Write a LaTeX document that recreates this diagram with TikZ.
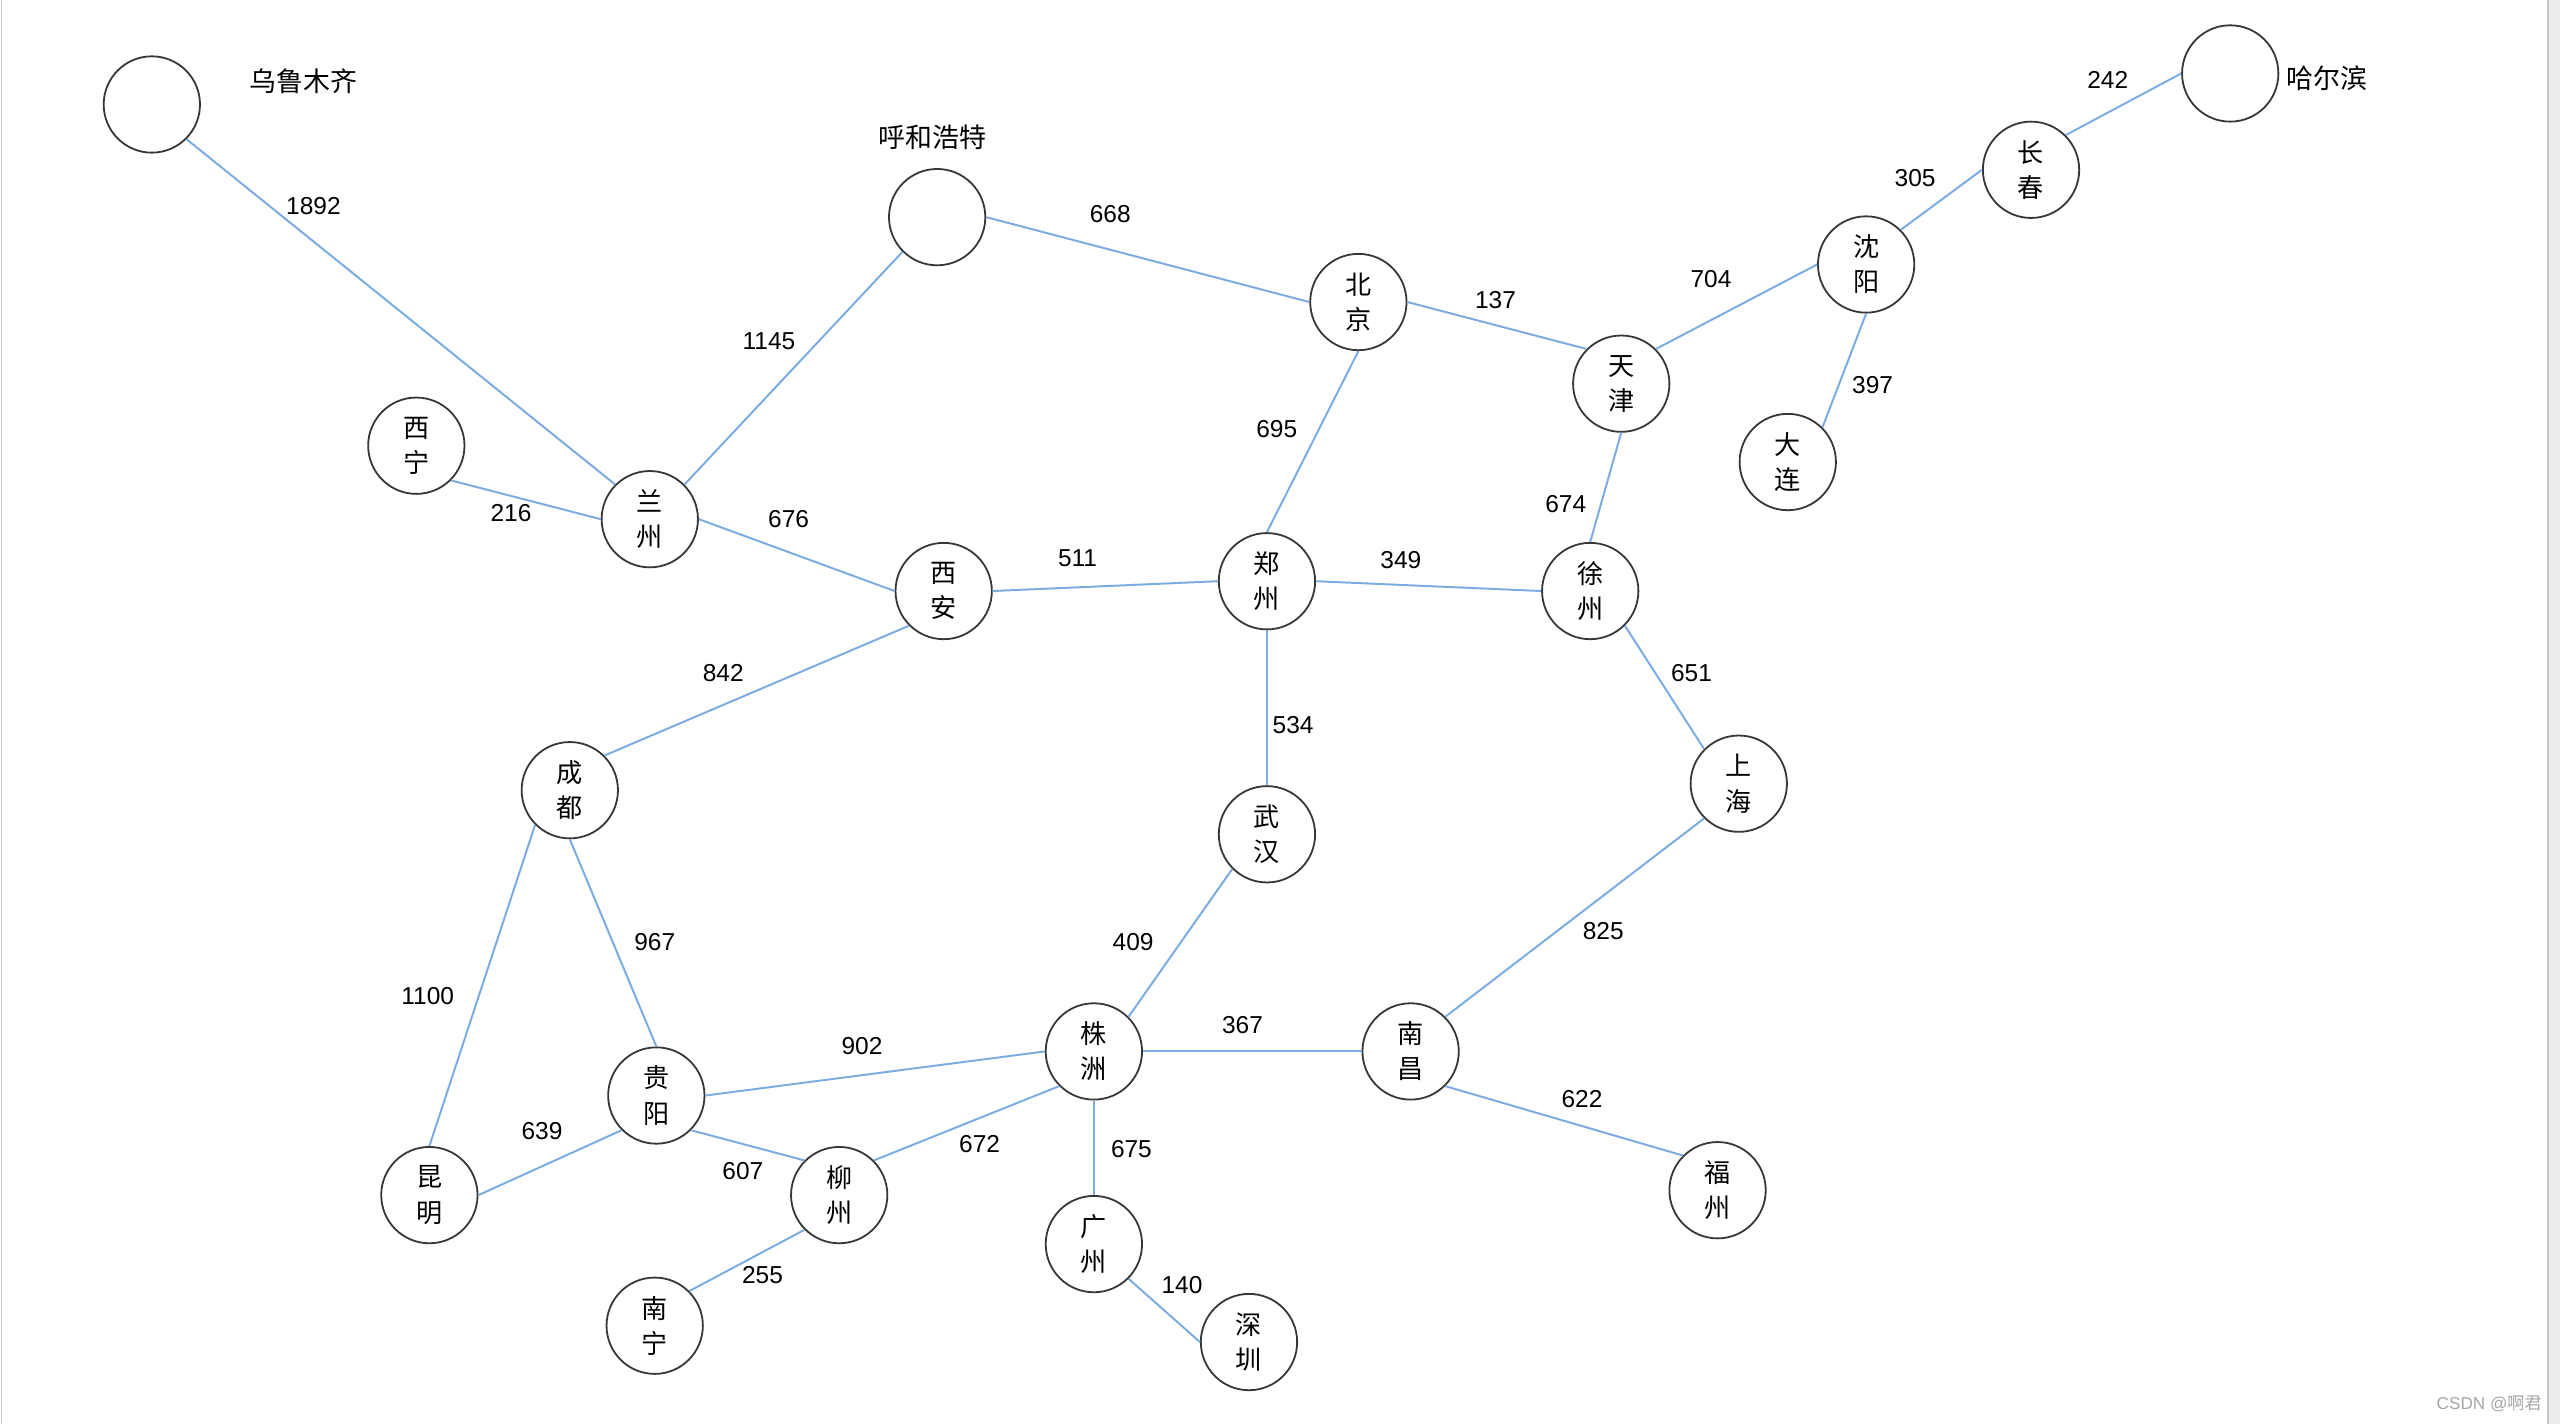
\documentclass[tikz,border=0pt]{standalone}
\usepackage{fontspec}
\setmainfont{Liberation Sans}
\newfontfamily\cjk{Noto Sans CJK SC}
\definecolor{railblue}{RGB}{122,172,226}
\definecolor{ringgray}{RGB}{55,55,55}
\definecolor{framegray}{RGB}{200,200,200}
\tikzset{
  city/.style={circle, draw=ringgray, fill=white, line width=1.1pt, minimum size=59pt, inner sep=0pt, align=center, font=\cjk\fontsize{16}{21.5}\selectfont},
  rail/.style={draw=railblue, line width=1.2pt},
  dist/.style={inner sep=0pt, font=\fontsize{15}{18}\selectfont},
  cname/.style={inner sep=0pt, font=\cjk\fontsize{16.5}{20}\selectfont}
}

\begin{document}
\begin{tikzpicture}[x=1pt, y=-1pt]
        \useasboundingbox (0,0) rectangle (1568,872);
        \fill[white] (0,0) rectangle (1568,872);
        \fill[gray!15] (1560.5,0) rectangle (1568,872);
        \draw[framegray, line width=1pt] (1,0) -- (1,872);
        \draw[framegray, line width=1pt] (1560.5,0) -- (1560.5,872);
        \node[city] (wlmq) at (93, 64) {};
        \node[city] (hhht) at (574, 133) {};
        \node[city] (heb) at (1366, 45) {};
        \node[city] (cc) at (1244, 104) {长\\春};
        \node[city] (sy) at (1143, 162) {沈\\阳};
        \node[city] (dl) at (1095, 283) {大\\连};
        \node[city] (bj) at (832, 185) {北\\京};
        \node[city] (tj) at (993, 235) {天\\津};
        \node[city] (xn) at (255, 273) {西\\宁};
        \node[city] (lz) at (398, 318) {兰\\州};
        \node[city] (xa) at (578, 362) {西\\安};
        \node[city] (zz) at (776, 356) {郑\\州};
        \node[city] (xz) at (974, 362) {徐\\州};
        \node[city] (sh) at (1065, 480) {上\\海};
        \node[city] (cd) at (349, 484) {成\\都};
        \node[city] (wh) at (776, 511) {武\\汉};
        \node[city] (zhz) at (670, 644) {株\\洲};
        \node[city] (nc) at (864, 644) {南\\昌};
        \node[city] (fz) at (1052, 729) {福\\州};
        \node[city] (gy) at (402, 671) {贵\\阳};
        \node[city] (km) at (263, 732) {昆\\明};
        \node[city] (lzh) at (514, 732) {柳\\州};
        \node[city] (nn) at (401, 812) {南\\宁};
        \node[city] (gz) at (670, 762) {广\\州};
        \node[city] (szn) at (765, 822) {深\\圳};
        \node[cname] (wlmqname) at (186, 50) {乌鲁木齐};
        \node[cname] (hhhtname) at (571, 84) {呼和浩特};
        \node[cname] (hebname) at (1425, 48) {哈尔滨};
        \draw[rail] (wlmq.south east) to (lz.north west);
        \draw[rail] (xn.south east) to (lz.west);
        \draw[rail] (lz.north east) to (hhht.south west);
        \draw[rail] (lz.east) to (xa.west);
        \draw[rail] (hhht.east) to (bj.west);
        \draw[rail] (bj.east) to (tj.north west);
        \draw[rail] (bj.south) to (zz.north);
        \draw[rail] (tj.north east) to (sy.west);
        \draw[rail] (sy.north east) to (cc.west);
        \draw[rail] (cc.north east) to (heb.west);
        \draw[rail] (sy.south) to (dl.north east);
        \draw[rail] (tj.south) to (xz.north);
        \draw[rail] (xa.east) to (zz.west);
        \draw[rail] (zz.east) to (xz.west);
        \draw[rail] (xz.south east) to (sh.north west);
        \draw[rail] (xa.south west) to (cd.north east);
        \draw[rail] (zz.south) to (wh.north);
        \draw[rail] (cd.south) to (gy.north);
        \draw[rail] (cd.south west) to (km.north);
        \draw[rail] (wh.south west) to (zhz.north east);
        \draw[rail] (sh.south west) to (nc.north east);
        \draw[rail] (zhz.east) to (nc.west);
        \draw[rail] (nc.south east) to (fz.north west);
        \draw[rail] (gy.east) to (zhz.west);
        \draw[rail] (gy.south west) to (km.east);
        \draw[rail] (gy.south east) to (lzh.north west);
        \draw[rail] (lzh.north east) to (zhz.south west);
        \draw[rail] (zhz.south) to (gz.north);
        \draw[rail] (lzh.south west) to (nn.north east);
        \draw[rail] (gz.south east) to (szn.west);
        \node[dist] at (192, 126) {1892};
        \node[dist] at (313, 314) {216};
        \node[dist] at (471, 209) {1145};
        \node[dist] at (483, 318) {676};
        \node[dist] at (680, 131) {668};
        \node[dist] at (916, 184) {137};
        \node[dist] at (782, 263) {695};
        \node[dist] at (1048, 171) {704};
        \node[dist] at (1173, 109) {305};
        \node[dist] at (1291, 49) {242};
        \node[dist] at (1147, 236) {397};
        \node[dist] at (959, 309) {674};
        \node[dist] at (660, 342) {511};
        \node[dist] at (858, 343) {349};
        \node[dist] at (1036, 412) {651};
        \node[dist] at (443, 412) {842};
        \node[dist] at (792, 444) {534};
        \node[dist] at (401, 577) {967};
        \node[dist] at (262, 610) {1100};
        \node[dist] at (694, 577) {409};
        \node[dist] at (982, 570) {825};
        \node[dist] at (761, 628) {367};
        \node[dist] at (969, 673) {622};
        \node[dist] at (528, 641) {902};
        \node[dist] at (332, 693) {639};
        \node[dist] at (455, 717) {607};
        \node[dist] at (600, 701) {672};
        \node[dist] at (693, 704) {675};
        \node[dist] at (467, 781) {255};
        \node[dist] at (724, 787) {140};
        \node[inner sep=0pt, anchor=east, text=gray!70, font=\fontsize{10.5}{12}\selectfont] (csdn) at (1557, 860) {CSDN @{\cjk 啊君}};
\end{tikzpicture}
\end{document}
